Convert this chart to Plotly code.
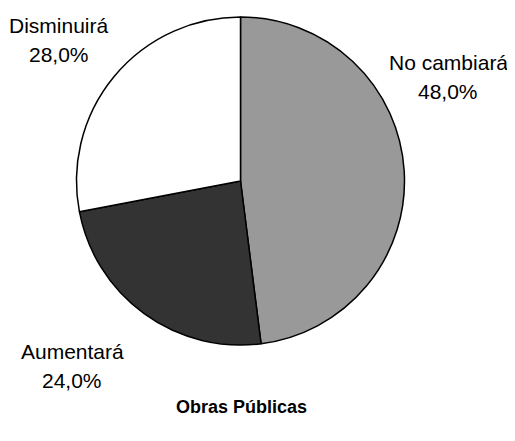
import plotly.graph_objects as go

# ---- data ----
categories = ["No cambiará", "Aumentará", "Disminuirá"]
values = [48.0, 24.0, 28.0]
title_text = "Obras Públicas"

# ---- styles ----
colors = ["#999999", "#333333", "#ffffff"]
PAGE_W, PAGE_H = 515, 441
OFF = 8  # default page body margin
W, H = PAGE_W - OFF, PAGE_H - 2 * OFF
FONT = "Liberation Sans, Arial, sans-serif"

# label layout (page-pixel centres of name line and percent line)
label_pos = {
    "No cambiará": (448, 62, 91),
    "Aumentará": (72, 351, 380),
    "Disminuirá": (59, 25, 54),
}

cx, cy, r = 240.5, 181, 164


def px(x):
    return (x - OFF) / W


def py(y):
    return 1 - (y - OFF) / H


fig = go.Figure(
    go.Pie(
        labels=categories,
        values=values,
        sort=False,
        direction="clockwise",
        rotation=0,
        marker=dict(colors=colors, line=dict(color="#000000", width=1.5)),
        textinfo="none",
        hoverinfo="label+percent",
        showlegend=False,
        domain=dict(x=[px(cx - r), px(cx + r)], y=[py(cy + r), py(cy - r)]),
    )
)

annotations = []
for cat, val in zip(categories, values):
    x, y1, y2 = label_pos[cat]
    pct = f"{val:.1f}%".replace(".", ",")
    for txt, yy in ((cat, y1), (pct, y2)):
        annotations.append(
            dict(
                text=txt, x=px(x), y=py(yy), xref="paper", yref="paper",
                xanchor="center", yanchor="middle", showarrow=False,
                font=dict(family=FONT, size=21, color="#000000"),
            )
        )
annotations.append(
    dict(
        text=f"<b>{title_text}</b>", x=px(241), y=py(407), xref="paper", yref="paper",
        xanchor="center", yanchor="middle", showarrow=False,
        font=dict(family=FONT, size=18, color="#000000"),
    )
)

fig.update_layout(
    width=W, height=H,
    margin=dict(l=0, r=0, t=0, b=0),
    paper_bgcolor="#ffffff", plot_bgcolor="#ffffff",
    annotations=annotations,
)

fig.write_html("out.html")
